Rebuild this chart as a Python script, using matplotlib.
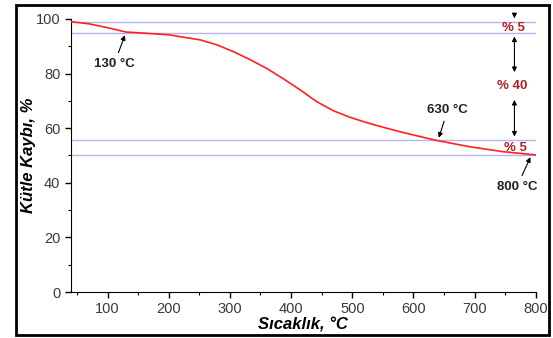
import matplotlib.pyplot as plt
from matplotlib.patches import Rectangle
from matplotlib.ticker import MultipleLocator

# veri: sıcaklık (°C) ve kütle (%)
temp = [40, 70, 100, 130, 160, 200, 252, 279, 306, 333, 360, 388, 415, 442,
        469, 496, 524, 551, 578, 600, 638, 692, 746, 800]
mass = [99.0, 98.2, 96.8, 95.2, 94.8, 94.2, 92.3, 90.5, 88.0, 85.1, 81.9, 78.0,
        74.0, 69.7, 66.4, 64.0, 62.0, 60.3, 58.7, 57.5, 55.5, 53.2, 51.4, 50.2]

ref_lines = [99.0, 95.0, 55.6, 50.3]
temp_notes = ["130 °C", "630 °C", "800 °C"]
loss_notes = ["% 5", "% 40", "% 5"]

plt.rcParams['font.family'] = ['Liberation Sans', 'DejaVu Sans']

fig = plt.figure(figsize=(5.53, 3.38), dpi=100)
ax = fig.add_axes([0.128, 0.136, 0.841, 0.808])

for yv in ref_lines:
    ax.axhline(yv, color='#b4b4f4', lw=1.0, zorder=1)

ax.plot(temp, mass, color='#ff2020', lw=1.2, zorder=3)

ax.set_xlim(40, 800)
ax.set_ylim(0, 100)
ax.xaxis.set_major_locator(MultipleLocator(100))
ax.xaxis.set_minor_locator(MultipleLocator(50))
ax.yaxis.set_major_locator(MultipleLocator(20))
ax.yaxis.set_minor_locator(MultipleLocator(10))
ax.tick_params(which='major', direction='out', length=4, width=1,
               labelsize=10.5, labelcolor='#3a3a3a')
ax.tick_params(which='minor', direction='out', length=2.5, width=0.8)
for s in ['top', 'right']:
    ax.spines[s].set_visible(False)

ax.set_xlabel("Sıcaklık, °C", fontsize=12, fontweight='bold', style='italic', labelpad=1)
ax.set_ylabel("Kütle Kaybı, %", fontsize=12, fontweight='bold', style='italic', labelpad=0)

# sıcaklık notları
arrow_k = dict(arrowstyle='-|>', color='black', lw=0.8, mutation_scale=7)
fs = 9.5
ax.annotate(temp_notes[0], xy=(130, 95.0), xytext=(111, 83.5), fontsize=fs,
            fontweight='bold', color='#222222', ha='center', va='center',
            arrowprops=arrow_k)
ax.annotate(temp_notes[1], xy=(640, 55.5), xytext=(656, 66.7), fontsize=fs,
            fontweight='bold', color='#222222', ha='center', va='center',
            arrowprops=arrow_k)
ax.annotate(temp_notes[2], xy=(793, 50.3), xytext=(769, 38.5), fontsize=fs,
            fontweight='bold', color='#222222', ha='center', va='center',
            arrowprops=arrow_k)

# kayıp yüzdeleri
ax.annotate('', xy=(765, 99.2), xytext=(765, 103), arrowprops=arrow_k,
            annotation_clip=False)
dbl = dict(arrowstyle='<|-|>', color='black', lw=0.8, mutation_scale=7)
ax.annotate('', xy=(765, 94.6), xytext=(765, 79.5), arrowprops=dbl)
ax.annotate('', xy=(765, 71.4), xytext=(765, 55.9), arrowprops=dbl)
red = '#b02020'
ax.text(764, 96.8, loss_notes[0], fontsize=fs, fontweight='bold', color=red,
        ha='center', va='center')
ax.text(761, 75.5, loss_notes[1], fontsize=fs, fontweight='bold', color=red,
        ha='center', va='center')
ax.text(766, 52.8, loss_notes[2], fontsize=fs, fontweight='bold', color=red,
        ha='center', va='center')

# dış çerçeve
fig.patches.append(Rectangle((0.029, 0.009), 0.964, 0.976, transform=fig.transFigure,
                             fill=False, edgecolor='black', lw=2))

fig.savefig("out.png", dpi=100)
